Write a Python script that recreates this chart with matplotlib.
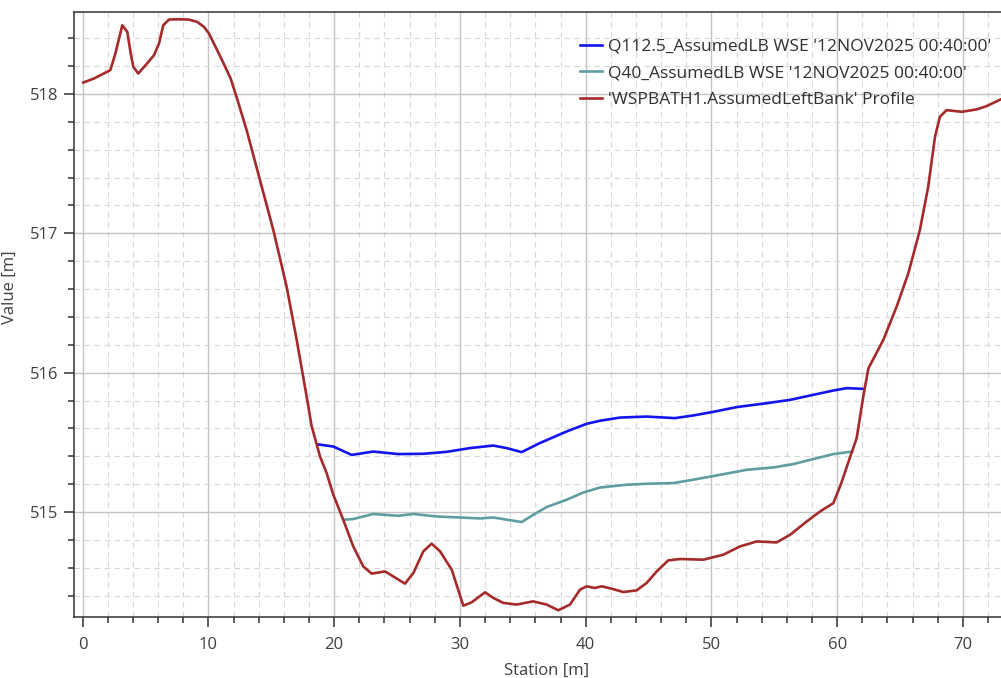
import matplotlib
matplotlib.use("Agg")
import matplotlib.pyplot as plt
from matplotlib.ticker import MultipleLocator

plt.rcParams['font.family'] = ['Open Sans', 'DejaVu Sans']

# Ground profile
prof_x = [0.05, 0.9, 2.2, 2.6, 3.15, 3.55, 3.82, 4.03, 4.42, 5.0, 5.67, 6.07, 6.41, 6.86,
          7.52, 8.45, 9.11, 9.65, 10.04, 10.7, 11.2, 11.77, 12.3, 13.04, 14.1,
          15.16, 16.22, 17.02, 17.81, 18.2, 18.87, 19.4, 19.93, 20.72, 21.52, 22.31,
          22.98, 24.04, 24.7, 25.63, 26.3, 27.09, 27.75, 28.42, 29.35, 30.27, 30.93,
          32.0, 32.65, 33.45, 34.51, 35.83, 36.9, 37.82, 38.75, 39.55, 40.08, 40.74,
          41.27, 42.06, 42.99, 44.05, 44.85, 45.65, 46.57, 47.5, 49.36, 50.95, 52.27,
          53.6, 55.19, 56.26, 57.59, 58.64, 59.7, 60.3, 60.9, 61.55, 62.08, 62.48,
          63.67, 64.73, 65.66, 66.58, 67.24, 67.78, 68.17, 68.7, 69.9, 71.09, 71.89, 73.1]
prof_y = [518.082, 518.111, 518.171, 518.29, 518.493, 518.445, 518.29, 518.194, 518.147,
          518.206, 518.278, 518.362, 518.493, 518.534, 518.536, 518.534, 518.517, 518.481,
          518.434, 518.314, 518.22, 518.11, 517.96, 517.74, 517.382, 517.024,
          516.617, 516.235, 515.829, 515.62, 515.4, 515.28, 515.125, 514.945, 514.753,
          514.61, 514.558, 514.574, 514.538, 514.486, 514.563, 514.718, 514.773, 514.718,
          514.586, 514.328, 514.352, 514.424, 514.384, 514.348, 514.336, 514.359, 514.336,
          514.295, 514.336, 514.443, 514.467, 514.455, 514.467, 514.45, 514.426, 514.438,
          514.491, 514.574, 514.653, 514.663, 514.658, 514.694, 514.753, 514.789, 514.782,
          514.837, 514.933, 515.004, 515.064, 515.2, 515.36, 515.53, 515.83, 516.03,
          516.235, 516.474, 516.713, 517.024, 517.334, 517.692, 517.836, 517.884, 517.872,
          517.889, 517.913, 517.965]

# Q112.5 water surface
q112_x = [18.74, 19.93, 21.39, 23.11, 25.1, 27.09, 28.95, 30.8, 32.65, 33.71, 34.91,
          36.36, 38.48, 40.07, 41.14, 42.73, 44.85, 47.1, 48.56, 50.15, 52.01, 54.39,
          56.26, 58.1, 59.7, 60.76, 62.03]
q112_y = [515.485, 515.47, 515.41, 515.434, 515.416, 515.418, 515.432, 515.459, 515.477,
          515.459, 515.43, 515.495, 515.578, 515.633, 515.655, 515.678, 515.685, 515.674,
          515.693, 515.719, 515.753, 515.781, 515.805, 515.841, 515.872, 515.889, 515.884]

# Q40 water surface
q40_x = [20.86, 21.52, 23.11, 25.1, 26.3, 28.15, 30.0, 31.59, 32.65, 34.91, 35.83, 36.9,
         38.48, 39.81, 41.14, 43.26, 44.85, 46.97, 48.56, 50.68, 52.8, 54.92, 56.51, 58.1,
         59.7, 61.2]
q40_y = [514.945, 514.95, 514.986, 514.973, 514.986, 514.968, 514.961, 514.954, 514.961,
         514.928, 514.98, 515.036, 515.088, 515.14, 515.176, 515.196, 515.203, 515.208,
         515.232, 515.267, 515.303, 515.32, 515.344, 515.38, 515.416, 515.434]

labels = ["Q112.5_AssumedLB WSE '12NOV2025 00:40:00'",
          "Q40_AssumedLB WSE '12NOV2025 00:40:00'",
          "'WSPBATH1.AssumedLeftBank' Profile"]

fig = plt.figure(figsize=(10.01, 6.78), dpi=100)
ax = fig.add_axes([74 / 1001, (678 - 616.7) / 678, (1001 - 74) / 1001 + 0.01, (616.7 - 12.3) / 678])

ax.plot(q112_x, q112_y, color='#1414F0', lw=1.9, label=labels[0], zorder=3)
ax.plot(q40_x, q40_y, color='#5F9EA0', lw=1.9, label=labels[1], zorder=3)
ax.plot(prof_x, prof_y, color='#A52A2A', lw=1.9, label=labels[2], zorder=3)

ax.set_xlim(-0.69, 73.03 + 0.01 * 1001 / 12.575)
ax.set_ylim(514.249, 518.586)

ax.xaxis.set_major_locator(MultipleLocator(10))
ax.xaxis.set_minor_locator(MultipleLocator(2))
ax.yaxis.set_major_locator(MultipleLocator(1))
ax.yaxis.set_minor_locator(MultipleLocator(0.2))

ax.grid(which='major', color='#c4c4c4', lw=1.0, ls='-', zorder=0)
ax.grid(which='minor', color='#d8d8d8', lw=0.8, ls=(0, (5, 4)), zorder=0)
ax.set_axisbelow(True)

for s in ['left', 'bottom', 'top']:
    ax.spines[s].set_color('#333333')
    ax.spines[s].set_linewidth(1.1)
ax.spines['right'].set_visible(False)

ax.tick_params(which='major', length=7, width=1.1, color='#333333', labelsize=12,
               labelcolor='#404040')
ax.tick_params(which='minor', length=4.3, width=1.1, color='#333333')
ax.tick_params(axis='x', which='major', pad=7.5)
ax.tick_params(axis='y', which='major', pad=4)

ax.set_xlabel('Station [m]', fontsize=12, color='#404040')
ax.set_ylabel('Value [m]', fontsize=12, color='#404040')
ax.xaxis.set_label_coords(0.504, -0.077)
ax.yaxis.set_label_coords(-0.0604, 0.5455)

leg = ax.legend(loc='upper left', bbox_to_anchor=(580 / 1001, 1 - 38.5 / 678),
                bbox_transform=fig.transFigure, frameon=False, fontsize=12.5,
                handlelength=1.26, handletextpad=0.35, borderpad=0, borderaxespad=0,
                labelspacing=0.6)
for t in leg.get_texts():
    t.set_color('#303030')

fig.savefig('out.png', dpi=100)
